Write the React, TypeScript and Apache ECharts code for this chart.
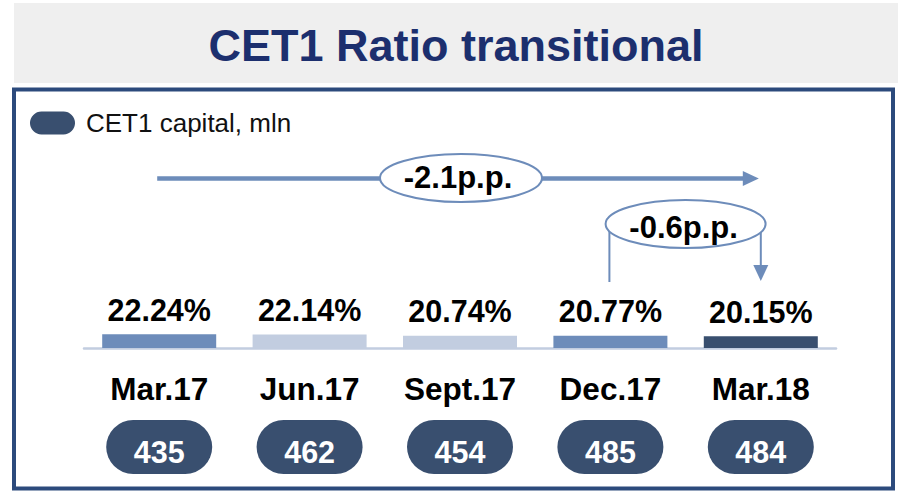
import React, { useEffect, useRef } from "react";
import * as echarts from "echarts";

const categories = ["Mar.17", "Jun.17", "Sept.17", "Dec.17", "Mar.18"];
const ratioValues = [22.24, 22.14, 20.74, 20.77, 20.15];
const capitalValues = [435, 462, 454, 485, 484];
const barColors = ["#6d8cba", "#c2cde0", "#c2cde0", "#6d8cba", "#394f6f"];
const changeLabels = ["-2.1p.p.", "-0.6p.p."];
const titleText = "CET1 Ratio transitional";
const capitalName = "CET1 capital, mln";

const FONT = "'Liberation Sans', Arial, Helvetica, sans-serif";
const PILL = "path://M27,0 H79 A27,27 0 0 1 79,54 H27 A27,27 0 0 1 27,0 Z";
const ARROW = "#6d8cba";

export default function App() {
  const ref = useRef<HTMLDivElement>(null);
  useEffect(() => {
    if (!ref.current) return;
    const chart = echarts.init(ref.current, null, { renderer: "svg" });
    chart.setOption({
      animation: false,
      backgroundColor: "#ffffff",
      title: {
        text: titleText,
        left: 456,
        textAlign: "center",
        top: 22,
        padding: 0,
        textStyle: {
          fontFamily: FONT,
          fontSize: 45,
          fontWeight: "bold",
          color: "#1c2f6e",
          lineHeight: 46,
        },
      },
      legend: {
        data: [capitalName],
        left: 30,
        top: 110,
        padding: 0,
        itemWidth: 45,
        itemHeight: 27,
        icon: PILL,
        textStyle: {
          fontFamily: FONT,
          fontSize: 26,
          color: "#111111",
          padding: [0, 0, 0, 6],
        },
      },
      grid: [
        { left: 84, right: 62, top: 300, bottom: 144 },
        { left: 84, right: 62, top: 420, height: 54 },
      ],
      xAxis: [
        {
          type: "category",
          gridIndex: 0,
          data: categories,
          axisLine: { lineStyle: { color: "#c2cde0", width: 2.5 } },
          axisTick: { show: false },
          axisLabel: {
            margin: 41,
            verticalAlign: "middle",
            fontFamily: FONT,
            fontSize: 31.5,
            fontWeight: "bold",
            color: "#000000",
          },
        },
        {
          type: "category",
          gridIndex: 1,
          data: categories,
          show: false,
        },
      ],
      yAxis: [
        { type: "value", gridIndex: 0, min: 8, max: 58, show: false },
        { type: "value", gridIndex: 1, min: 0, max: 1, show: false },
      ],
      series: [
        {
          type: "bar",
          name: "CET1 Ratio",
          xAxisIndex: 0,
          yAxisIndex: 0,
          barWidth: 114,
          data: ratioValues.map((v, i) => ({
            value: v,
            itemStyle: { color: barColors[i] },
          })),
          label: {
            show: true,
            position: "top",
            distance: 9,
            formatter: (p: any) => Number(p.value).toFixed(2) + "%",
            fontFamily: FONT,
            fontSize: 30.5,
            fontWeight: "bold",
            color: "#000000",
          },
        },
        {
          type: "scatter",
          name: capitalName,
          xAxisIndex: 1,
          yAxisIndex: 1,
          symbol: PILL,
          symbolSize: [106, 54],
          itemStyle: { color: "#394f6f", opacity: 1 },
          data: capitalValues.map((v, i) => [i, 0.5, v]),
          label: {
            show: true,
            position: "inside",
            offset: [0, 5],
            formatter: (p: any) => String(p.value[2]),
            fontFamily: FONT,
            fontSize: 30.5,
            fontWeight: "bold",
            color: "#ffffff",
          },
        },
      ],
    });

    const cx = categories.map(
      (c) => chart.convertToPixel({ xAxisIndex: 0 }, c) as number
    );
    const yLong = 178.5;
    const tipLong = cx[4] - 2;
    const ex2 = (cx[3] + cx[4]) / 2;
    const ey2 = 224;
    const textStyleBold = {
      fontFamily: FONT,
      fontSize: 31,
      fontWeight: "bold",
      fill: "#000000",
      align: "center",
      verticalAlign: "middle",
    };

    chart.setOption({
      graphic: [
        {
          type: "rect",
          z: -10,
          shape: { x: 14, y: 3, width: 884, height: 80 },
          style: { fill: "#efefef" },
        },
        {
          type: "rect",
          z: -9,
          shape: { x: 14, y: 89.5, width: 879, height: 399 },
          style: { fill: "none", stroke: "#2c4a7c", lineWidth: 4 },
        },
        {
          type: "line",
          shape: { x1: cx[0] - 2, y1: yLong, x2: tipLong - 14, y2: yLong },
          style: { stroke: ARROW, lineWidth: 4.5 },
        },
        {
          type: "polygon",
          shape: {
            points: [
              [tipLong - 16, yLong - 7.5],
              [tipLong, yLong],
              [tipLong - 16, yLong + 7.5],
            ],
          },
          style: { fill: ARROW },
        },
        {
          type: "ellipse",
          z: 5,
          shape: { cx: cx[2] + 1, cy: 178, rx: 81, ry: 24 },
          style: { fill: "#ffffff", stroke: ARROW, lineWidth: 2 },
        },
        {
          type: "text",
          z: 6,
          x: cx[2] - 2,
          y: 177,
          style: { text: changeLabels[0], ...textStyleBold },
        },
        {
          type: "line",
          shape: { x1: cx[3] - 1, y1: 231, x2: cx[3] - 1, y2: 282 },
          style: { stroke: ARROW, lineWidth: 2 },
        },
        {
          type: "line",
          shape: { x1: cx[4], y1: 231, x2: cx[4], y2: 267 },
          style: { stroke: ARROW, lineWidth: 2 },
        },
        {
          type: "polygon",
          shape: {
            points: [
              [cx[4] - 7.5, 265],
              [cx[4] + 7.5, 265],
              [cx[4], 281],
            ],
          },
          style: { fill: ARROW },
        },
        {
          type: "ellipse",
          z: 5,
          shape: { cx: ex2, cy: ey2, rx: 80, ry: 24 },
          style: { fill: "#ffffff", stroke: ARROW, lineWidth: 2 },
        },
        {
          type: "text",
          z: 6,
          x: ex2 - 2,
          y: 227,
          style: { text: changeLabels[1], ...textStyleBold },
        },
      ],
    });

    return () => chart.dispose();
  }, []);

  return (
    <div
      ref={ref}
      style={{ position: "fixed", left: 0, top: 0, width: 898, height: 492 }}
    />
  );
}
